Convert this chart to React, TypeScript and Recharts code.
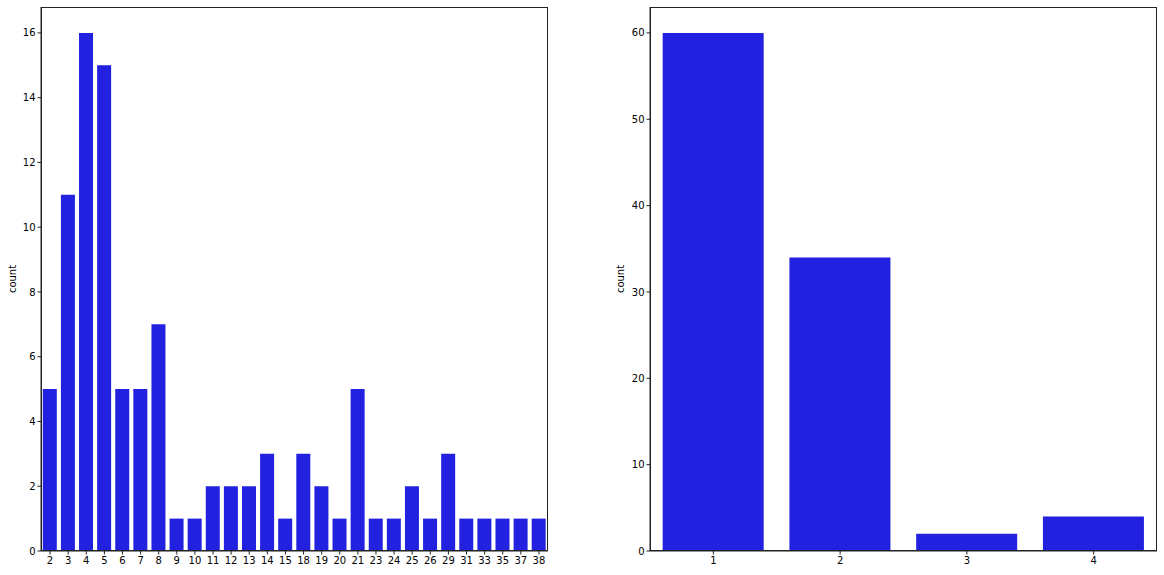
import React from 'react';
import { BarChart, Bar, XAxis, YAxis } from 'recharts';

const leftCategories = ['2','3','4','5','6','7','8','9','10','11','12','13','14','15','18','19','20','21','23','24','25','26','29','31','33','35','37','38'];
const leftCounts = [5,11,16,15,5,5,7,1,1,2,2,2,3,1,3,2,1,5,1,1,2,1,3,1,1,1,1,1];
const leftTicks = [0,2,4,6,8,10,12,14,16];

const rightCategories = ['1','2','3','4'];
const rightCounts = [60,34,2,4];
const rightTicks = [0,10,20,30,40,50,60];

const leftData = leftCategories.map((c, i) => ({ cat: c, count: leftCounts[i] }));
const rightData = rightCategories.map((c, i) => ({ cat: c, count: rightCounts[i] }));

const BAR = '#2121DF';
const AX = '#222222';
const FONT = { fontFamily: 'DejaVu Sans', fontSize: 10, fill: '#000000' };

function Panel({ data, ticks, max, yWidth, width, rightMargin, labelX }: any) {
  return (
    <div style={{ position: 'relative', width, height: 575 }}>
      <BarChart
        width={width}
        height={575}
        data={data}
        margin={{ top: 7, right: rightMargin, bottom: 0, left: 0 }}
        barCategoryGap="10%"
      >
        <XAxis
          dataKey="cat"
          height={24}
          tickLine={{ stroke: AX }}
          axisLine={{ stroke: AX }}
          tickSize={3.5}
          tickMargin={2}
          tick={FONT}
          interval={0}
        />
        <YAxis
          width={yWidth}
          domain={[0, max]}
          ticks={ticks}
          allowDataOverflow
          tickLine={{ stroke: AX }}
          axisLine={{ stroke: AX }}
          tickSize={3.5}
          tickMargin={2}
          tick={FONT}
          label={(props: any) => {
            const vb = props.viewBox || { y: 7, height: 544 };
            const cy = vb.y + vb.height / 2;
            return (
              <text
                x={labelX}
                y={cy}
                transform={`rotate(-90 ${labelX} ${cy})`}
                textAnchor="middle"
                dominantBaseline="central"
                style={{ fontFamily: 'DejaVu Sans', fontSize: 10, fill: '#000' }}
              >
                count
              </text>
            );
          }}
        />
        <Bar dataKey="count" fill={BAR} isAnimationActive={false} />
      </BarChart>
      <div
        style={{
          position: 'absolute',
          left: yWidth,
          top: 7,
          width: width - yWidth - rightMargin,
          height: 544,
          boxSizing: 'border-box',
          border: `1px solid ${AX}`,
          pointerEvents: 'none',
        }}
      />
    </div>
  );
}

export default function App() {
  return (
    <div style={{ position: 'absolute', left: 0, top: 0, width: 1164, height: 575, background: '#fff' }}>
      <div style={{ position: 'absolute', left: 0, top: 0 }}>
        <Panel data={leftData} ticks={leftTicks} max={16.8} yWidth={41} width={560} rightMargin={12} labelX={12} />
      </div>
      <div style={{ position: 'absolute', left: 580, top: 0 }}>
        <Panel data={rightData} ticks={rightTicks} max={63} yWidth={70} width={584} rightMargin={7} labelX={40} />
      </div>
    </div>
  );
}
